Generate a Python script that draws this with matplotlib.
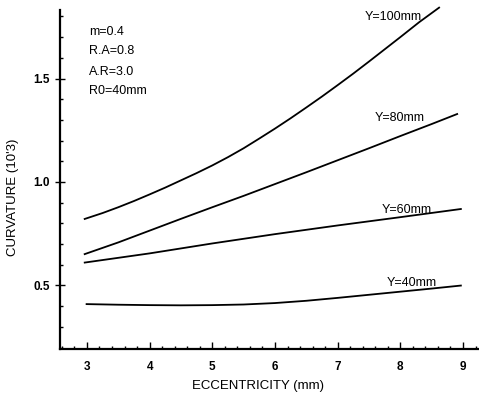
import matplotlib
matplotlib.use("Agg")
import matplotlib.pyplot as plt
from matplotlib.ticker import MultipleLocator

plt.rcParams['font.family'] = ['Liberation Sans', 'DejaVu Sans']

# Data
ecc_100 = [2.95, 3.25, 3.5, 3.75, 4.0, 4.25, 4.5, 4.75, 5.0, 5.25, 5.5, 5.75, 6.0,
           6.25, 6.5, 6.75, 7.0, 7.25, 7.5, 7.75, 8.0, 8.3, 8.63]
curv_100 = [0.82, 0.85, 0.878, 0.908, 0.94, 0.973, 1.008, 1.043, 1.08, 1.12, 1.163, 1.21, 1.258,
            1.308, 1.36, 1.413, 1.468, 1.524, 1.582, 1.641, 1.70, 1.772, 1.845]

ecc_80 = [2.95, 3.5, 4.0, 4.5, 5.0, 5.5, 6.0, 6.5, 7.0, 7.5, 8.0, 8.5, 8.92]
curv_80 = [0.65, 0.708, 0.765, 0.822, 0.878, 0.933, 0.99, 1.047, 1.105, 1.163, 1.222, 1.28, 1.33]

ecc_60 = [2.95, 4.0, 5.0, 6.0, 7.0, 8.0, 8.98]
curv_60 = [0.61, 0.655, 0.703, 0.748, 0.79, 0.83, 0.87]

ecc_40 = [2.98, 3.5, 4.0, 4.5, 5.0, 5.5, 6.0, 6.5, 7.0, 7.5, 8.0, 8.5, 8.98]
curv_40 = [0.41, 0.407, 0.405, 0.404, 0.405, 0.408, 0.415, 0.426, 0.44, 0.455, 0.47, 0.485, 0.50]

series_labels = ["Y=100mm", "Y=80mm", "Y=60mm", "Y=40mm"]
param_text = ["m=0.4", "R.A=0.8", "A.R=3.0", "R0=40mm"]
x_ticks = [3, 4, 5, 6, 7, 8, 9]
y_ticks = [0.5, 1.0, 1.5]

fig = plt.figure(figsize=(4.79, 3.97), dpi=100)
ax = fig.add_axes([60/479, 1 - 349/397, (479 - 60)/479, (349 - 10)/397])

for xs, ys in [(ecc_100, curv_100), (ecc_80, curv_80), (ecc_60, curv_60), (ecc_40, curv_40)]:
    ax.plot(xs, ys, color='black', lw=1.3, clip_on=False, solid_capstyle='butt',
            solid_joinstyle='round')

ax.set_xlim(2.57, 9.255)
ax.set_ylim(0.193, 1.831)

ax.spines['top'].set_visible(False)
ax.spines['right'].set_visible(False)
ax.spines['left'].set_linewidth(1.6)
ax.spines['bottom'].set_linewidth(1.6)

ax.set_xticks(x_ticks)
ax.set_xticklabels([str(v) for v in x_ticks])
ax.set_yticks(y_ticks)
ax.set_yticklabels(["%.1f" % v for v in y_ticks])
ax.xaxis.set_minor_locator(MultipleLocator(0.2))
ax.yaxis.set_minor_locator(MultipleLocator(0.1))

ax.tick_params(axis='x', which='major', direction='in', length=5, width=1.0, pad=9, labelsize=8.5)
ax.tick_params(axis='x', which='minor', direction='in', length=2.5, width=1.0)
ax.tick_params(axis='y', which='major', direction='inout', length=7, width=1.0, pad=4, labelsize=8.5)
ax.tick_params(axis='y', which='minor', direction='in', length=2.5, width=1.0)
for lab in ax.get_xticklabels() + ax.get_yticklabels():
    lab.set_fontweight('bold')

ax.set_xlabel("ECCENTRICITY (mm)", fontsize=9.5)
ax.xaxis.set_label_coords((258 - 60) / 419, -(380 - 349) / 339)
ax.set_ylabel("CURVATURE (10'3)", fontsize=9.5)
ax.yaxis.set_label_coords(-(60 - 19) / 419, (349 - 197) / 339)

# series labels (pixel positions converted to axes fraction)
label_pos = [(365, 17), (375, 118), (382, 210), (387, 283)]
for text, (px, py) in zip(series_labels, label_pos):
    ax.text((px - 60) / 419, (349 - py) / 339, text, transform=ax.transAxes,
            fontsize=9, ha='left', va='center')

param_y = [32, 51, 72, 91]
for text, py in zip(param_text, param_y):
    ax.text((89 - 60) / 419, (349 - py) / 339, text, transform=ax.transAxes,
            fontsize=9, ha='left', va='center')

fig.savefig("out.png", dpi=100)
